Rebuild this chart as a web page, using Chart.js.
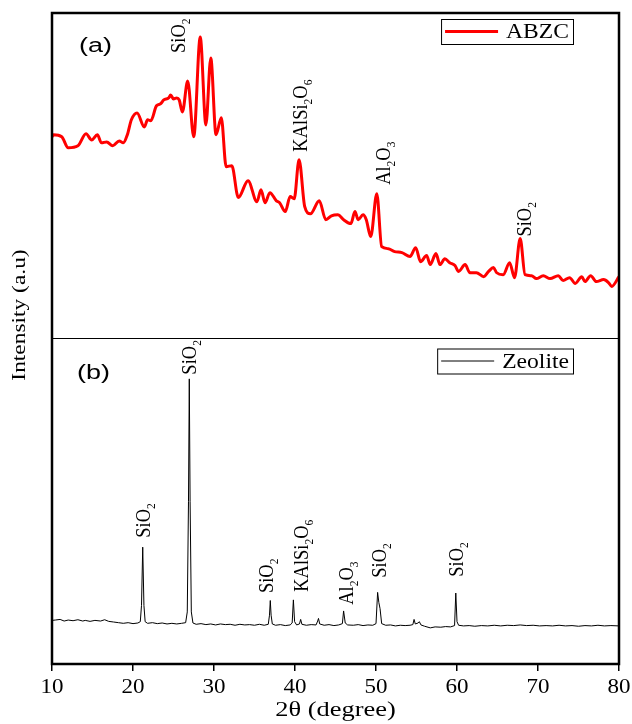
<!DOCTYPE html>
<html>
<head>
<meta charset="utf-8">
<script src="https://cdn.jsdelivr.net/npm/chart.js@4/dist/chart.umd.min.js"></script>
<style>
  html, body { margin: 0; padding: 0; background: #fff; }
  canvas { display: block; }
</style>
</head>
<body>
<canvas id="xrd" width="632" height="724"></canvas>
<script>
// panel (a): ABZC, 2theta (deg) and relative intensity
var abzcAngle = [10.0, 10.2, 11.2, 12.0, 13.2, 14.2, 14.9, 15.6, 16.1, 16.75, 17.5, 18.3, 18.8, 19.3, 19.8,
  20.5, 21.4, 21.8, 22.2, 22.9, 23.4, 23.8, 24.4, 24.65, 25.0, 25.4, 25.7, 26.1, 26.75, 27.5,
  28.3, 29.0, 29.6, 30.25, 30.9, 31.5, 32.2, 33.0, 34.2, 35.3, 35.8, 36.3, 36.9, 37.7, 38.1,
  38.8, 39.4, 39.9, 40.5, 41.2, 41.9, 43.0, 43.8, 44.5, 45.3, 46.0, 46.9, 47.4, 47.8, 48.4,
  48.8, 49.35, 50.1, 50.7, 51.5, 52.3, 53.2, 54.2, 54.9, 55.5, 56.25, 56.7, 57.4, 57.9, 58.5,
  59.1, 59.75, 60.2, 61.0, 61.6, 62.4, 63.3, 63.9, 64.5, 64.9, 65.7, 66.5, 67.1, 67.8, 68.4,
  69.2, 69.8, 70.65, 71.5, 72.5, 73.1, 73.9, 74.6, 75.4, 75.8, 76.5, 77.2, 78.1, 78.7, 79.1, 80.0];
var abzcIntensity = [62.0, 62.6, 62.0, 58.6, 59.2, 62.9, 61.0, 62.6, 60.1, 60.4, 59.2, 60.7, 60.1, 62.6, 67.2,
  69.3, 65.0, 67.2, 66.9, 71.5, 72.1, 73.3, 73.9, 74.8, 73.6, 73.9, 73.3, 69.6, 79.1, 62.0,
  92.6, 65.6, 86.2, 62.6, 67.8, 52.8, 53.1, 43.3, 48.5, 42.0, 45.7, 41.7, 44.8, 42.3, 41.7,
  39.0, 43.6, 42.9, 54.9, 40.5, 38.3, 42.3, 36.5, 37.7, 38.0, 36.5, 35.3, 39.0, 36.5, 38.0,
  36.5, 31.3, 44.5, 28.2, 27.6, 26.7, 26.4, 25.2, 27.9, 23.6, 25.5, 22.7, 26.1, 22.7, 24.5,
  23.3, 22.4, 20.6, 22.7, 20.2, 20.2, 19.0, 20.6, 21.8, 20.2, 19.6, 23.3, 18.7, 30.7, 19.6,
  19.3, 18.4, 19.3, 18.4, 19.3, 17.8, 18.7, 16.9, 19.0, 17.5, 19.3, 17.5, 18.1, 17.2, 16.0, 19.0];

// panel (b): Zeolite
var zeoAngle = [10.0, 10.4, 11.0, 11.5, 12.0, 12.6, 13.2, 13.8, 14.1, 14.7, 15.3, 16.0, 16.5, 17.0, 17.6,
  18.2, 18.8, 19.4, 20.0, 20.6, 20.9, 21.05, 21.2, 21.35, 21.5, 21.8, 22.4, 23.0, 23.6, 24.2,
  24.8, 25.4, 26.0, 26.5, 26.7, 26.85, 26.95, 27.05, 27.2, 27.4, 27.8, 28.4, 29.0, 29.6, 30.2,
  30.8, 31.4, 32.0, 32.6, 33.2, 33.8, 34.4, 35.0, 35.6, 36.2, 36.7, 36.85, 36.95, 37.05, 37.2,
  37.6, 38.2, 38.8, 39.4, 39.65, 39.8, 39.95, 40.2, 40.55, 40.7, 40.85, 41.4, 42.0, 42.6, 42.8,
  42.9, 43.05, 43.6, 44.2, 44.8, 45.4, 45.85, 46.0, 46.2, 46.5, 47.2, 47.8, 48.4, 49.0, 49.6,
  50.0, 50.2, 50.35, 50.5, 50.7, 51.2, 51.8, 52.4, 53.0, 53.6, 54.2, 54.55, 54.7, 54.85, 55.2,
  55.35, 55.55, 56.0, 56.7, 57.3, 58.0, 58.6, 59.2, 59.7, 59.85, 60.0, 60.2, 60.8, 61.5, 62.2,
  63.0, 63.8, 64.6, 65.4, 66.2, 67.0, 67.8, 68.6, 69.4, 70.2, 71.0, 71.8, 72.6, 73.4, 74.2,
  75.0, 75.8, 76.6, 77.4, 78.2, 79.0, 80.0];
var zeoIntensity = [13.4, 13.5, 13.7, 13.2, 13.5, 13.3, 13.6, 13.2, 13.4, 13.1, 13.4, 13.2, 13.6, 13.1, 12.9,
  12.7, 12.5, 12.7, 12.4, 12.6, 13.0, 18.0, 35.9, 18.0, 13.0, 12.5, 12.7, 12.4, 12.6, 12.3,
  12.5, 12.3, 12.5, 12.7, 16.0, 50.0, 87.6, 50.0, 16.0, 12.6, 12.2, 12.4, 12.1, 12.3, 12.0,
  12.3, 12.1, 12.2, 11.9, 12.2, 12.0, 12.1, 11.9, 12.2, 11.9, 12.2, 15.0, 19.5, 15.0, 12.3,
  11.9, 12.1, 11.8, 12.0, 12.6, 19.7, 13.0, 12.0, 12.3, 13.7, 12.2, 11.9, 12.1, 12.0, 13.2,
  14.0, 12.3, 11.9, 12.1, 11.8, 12.0, 12.4, 16.3, 12.6, 12.0, 11.9, 12.1, 11.8, 12.0, 11.9,
  12.4, 22.0, 18.9, 17.0, 12.4, 11.9, 12.0, 11.7, 11.9, 11.8, 11.9, 12.1, 13.7, 12.3, 12.6,
  13.0, 12.0, 11.6, 11.1, 11.4, 11.3, 11.5, 11.4, 11.8, 21.8, 13.0, 11.9, 11.7, 11.8, 11.6,
  11.8, 11.7, 11.9, 11.7, 11.9, 11.8, 12.0, 11.8, 11.9, 11.7, 11.8, 11.7, 11.9, 11.7, 11.8,
  11.6, 11.8, 11.7, 11.9, 11.7, 11.8, 11.7];

var xTicks = [10, 20, 30, 40, 50, 60, 70, 80];

// phase labels ("_n" = subscript), placed at 2theta / intensity
var abzcPeakText = ['SiO_2', 'KAlSi_2O_6', 'Al_2O_3', 'SiO_2'];
var abzcPeakAngle = [25.6, 40.6, 50.9, 68.3];
var abzcPeakLevel = [87.7, 57.4, 47.2, 31.3];
var zeoPeakText = ['SiO_2', 'SiO_2', 'SiO_2', 'KAlSi_2O_6', 'Al_2O_3', 'SiO_2', 'SiO_2'];
var zeoPeakAngle = [21.2, 26.9, 36.4, 40.7, 46.3, 50.4, 59.9];
var zeoPeakLevel = [38.8, 88.9, 21.8, 22.2, 18.2, 26.5, 26.8];

var SERIF = '"Liberation Serif", "Times New Roman", serif';
var SANS = '"Liberation Sans", Arial, sans-serif';

function toPoints(xs, ys) {
  return xs.map(function (x, i) { return {x: x, y: ys[i]}; });
}

// text drawn wider/narrower than the font, like the original figure
function wideText(ctx, text, x, y, k, align) {
  ctx.save();
  ctx.translate(x, y);
  ctx.scale(k, 1);
  ctx.textAlign = align || 'left';
  ctx.fillText(text, 0, 0);
  ctx.restore();
}

function drawFormula(ctx, text, x, y, size) {
  ctx.save();
  ctx.translate(x, y);
  ctx.rotate(-Math.PI / 2);
  ctx.scale(0.88, 1);
  ctx.fillStyle = '#000';
  ctx.textBaseline = 'alphabetic';
  ctx.textAlign = 'left';
  var pos = 0;
  text.split(/(_\d)/).forEach(function (p) {
    if (!p) return;
    if (p[0] === '_') {
      ctx.font = Math.round(size * 0.62) + 'px ' + SERIF;
      ctx.fillText(p.slice(1), pos, size * 0.24);
      pos += ctx.measureText(p.slice(1)).width;
    } else {
      ctx.font = size + 'px ' + SERIF;
      ctx.fillText(p, pos, 0);
      pos += ctx.measureText(p).width;
    }
  });
  ctx.restore();
}

function drawLegend(ctx, area, topY, ds) {
  ctx.save();
  ctx.font = '20px ' + SERIF;
  var k = 1.18;
  var tw = ctx.measureText(ds.label).width * k;
  var w = 4 + 53 + 8 + tw + 4;
  var right = area.right - 46;
  var left = right - w;
  ctx.strokeStyle = '#000';
  ctx.lineWidth = 1;
  ctx.strokeRect(left + 0.5, topY + 0.5, w, 25);
  ctx.strokeStyle = ds.borderColor;
  ctx.lineWidth = ds.borderWidth;
  ctx.beginPath();
  ctx.moveTo(left + 4, topY + 12.5);
  ctx.lineTo(left + 57, topY + 12.5);
  ctx.stroke();
  ctx.fillStyle = '#000';
  ctx.textBaseline = 'alphabetic';
  wideText(ctx, ds.label, left + 65, topY + 19, k);
  ctx.restore();
}

var framePlugin = {
  id: 'xrdFrame',
  afterDraw: function (chart) {
    var ctx = chart.ctx;
    var a = chart.chartArea;
    var x = chart.scales.x;
    var yTop = chart.scales.yTop;
    var yBot = chart.scales.yBot;
    var ds = chart.data.datasets;

    ctx.save();
    // frame and divider
    ctx.strokeStyle = '#000';
    ctx.lineWidth = 2.5;
    ctx.strokeRect(a.left, a.top, a.right - a.left, a.bottom - a.top);
    ctx.lineWidth = 1.2;
    ctx.beginPath();
    ctx.moveTo(a.left, yTop.bottom);
    ctx.lineTo(a.right, yTop.bottom);
    ctx.stroke();

    // tick labels and axis titles
    ctx.fillStyle = '#000';
    ctx.textBaseline = 'alphabetic';
    ctx.font = '20px ' + SERIF;
    xTicks.forEach(function (t) {
      wideText(ctx, String(t), x.getPixelForValue(t), a.bottom + 29, 1.15, 'center');
    });
    wideText(ctx, '2\u03b8 (degree)', (a.left + a.right) / 2, a.bottom + 52, 1.32, 'center');

    ctx.save();
    ctx.font = '18px ' + SERIF;
    ctx.translate(25, 315);
    ctx.rotate(-Math.PI / 2);
    ctx.scale(1.3, 1);
    ctx.textAlign = 'center';
    ctx.fillText('Intensity (a.u)', 0, 0);
    ctx.restore();

    // panel tags
    ctx.font = '20px ' + SANS;
    wideText(ctx, '(a)', a.left + 27, yTop.top + 39, 1.35);
    wideText(ctx, '(b)', a.left + 25, yBot.top + 40, 1.35);

    // phase labels
    abzcPeakText.forEach(function (t, i) {
      drawFormula(ctx, t, x.getPixelForValue(abzcPeakAngle[i]) + 7, yTop.getPixelForValue(abzcPeakLevel[i]), 21);
    });
    zeoPeakText.forEach(function (t, i) {
      drawFormula(ctx, t, x.getPixelForValue(zeoPeakAngle[i]) + 7, yBot.getPixelForValue(zeoPeakLevel[i]), 21);
    });

    drawLegend(ctx, a, yTop.top + 6, ds[0]);
    drawLegend(ctx, a, yBot.top + 10, ds[1]);
    ctx.restore();
  }
};

var ctx = document.getElementById('xrd').getContext('2d');
var xrdChart = new Chart(ctx, {
  type: 'line',
  data: {
    datasets: [{
      label: 'ABZC',
      data: toPoints(abzcAngle, abzcIntensity),
      yAxisID: 'yTop',
      borderColor: '#ff0000',
      borderWidth: 3,
      pointRadius: 0,
      cubicInterpolationMode: 'monotone'
    }, {
      label: 'Zeolite',
      data: toPoints(zeoAngle, zeoIntensity),
      yAxisID: 'yBot',
      borderColor: '#000000',
      borderWidth: 1,
      pointRadius: 0,
      tension: 0
    }]
  },
  options: {
    responsive: false,
    animation: false,
    layout: { padding: { left: 52, right: 13, top: 13, bottom: 0 } },
    plugins: {
      legend: { display: false },
      tooltip: { enabled: false }
    },
    scales: {
      x: {
        type: 'linear',
        min: 10,
        max: 80,
        ticks: { stepSize: 10, display: false },
        grid: { drawOnChartArea: false, drawTicks: true, tickLength: 7, color: '#000', lineWidth: 1.5 },
        border: { display: false },
        afterFit: function (s) { s.height = 60; }
      },
      // Chart.js stacks left axes bottom-up, so the lower panel is listed first
      yBot: {
        type: 'linear',
        min: 0,
        max: 100,
        stack: 'xrd',
        stackWeight: 1,
        ticks: { display: false },
        grid: { display: false },
        border: { display: false },
        afterFit: function (s) { s.width = 0; }
      },
      yTop: {
        type: 'linear',
        min: 0,
        max: 100,
        stack: 'xrd',
        stackWeight: 1,
        ticks: { display: false },
        grid: { display: false },
        border: { display: false },
        afterFit: function (s) { s.width = 0; }
      }
    }
  },
  plugins: [framePlugin]
});
</script>
</body>
</html>
